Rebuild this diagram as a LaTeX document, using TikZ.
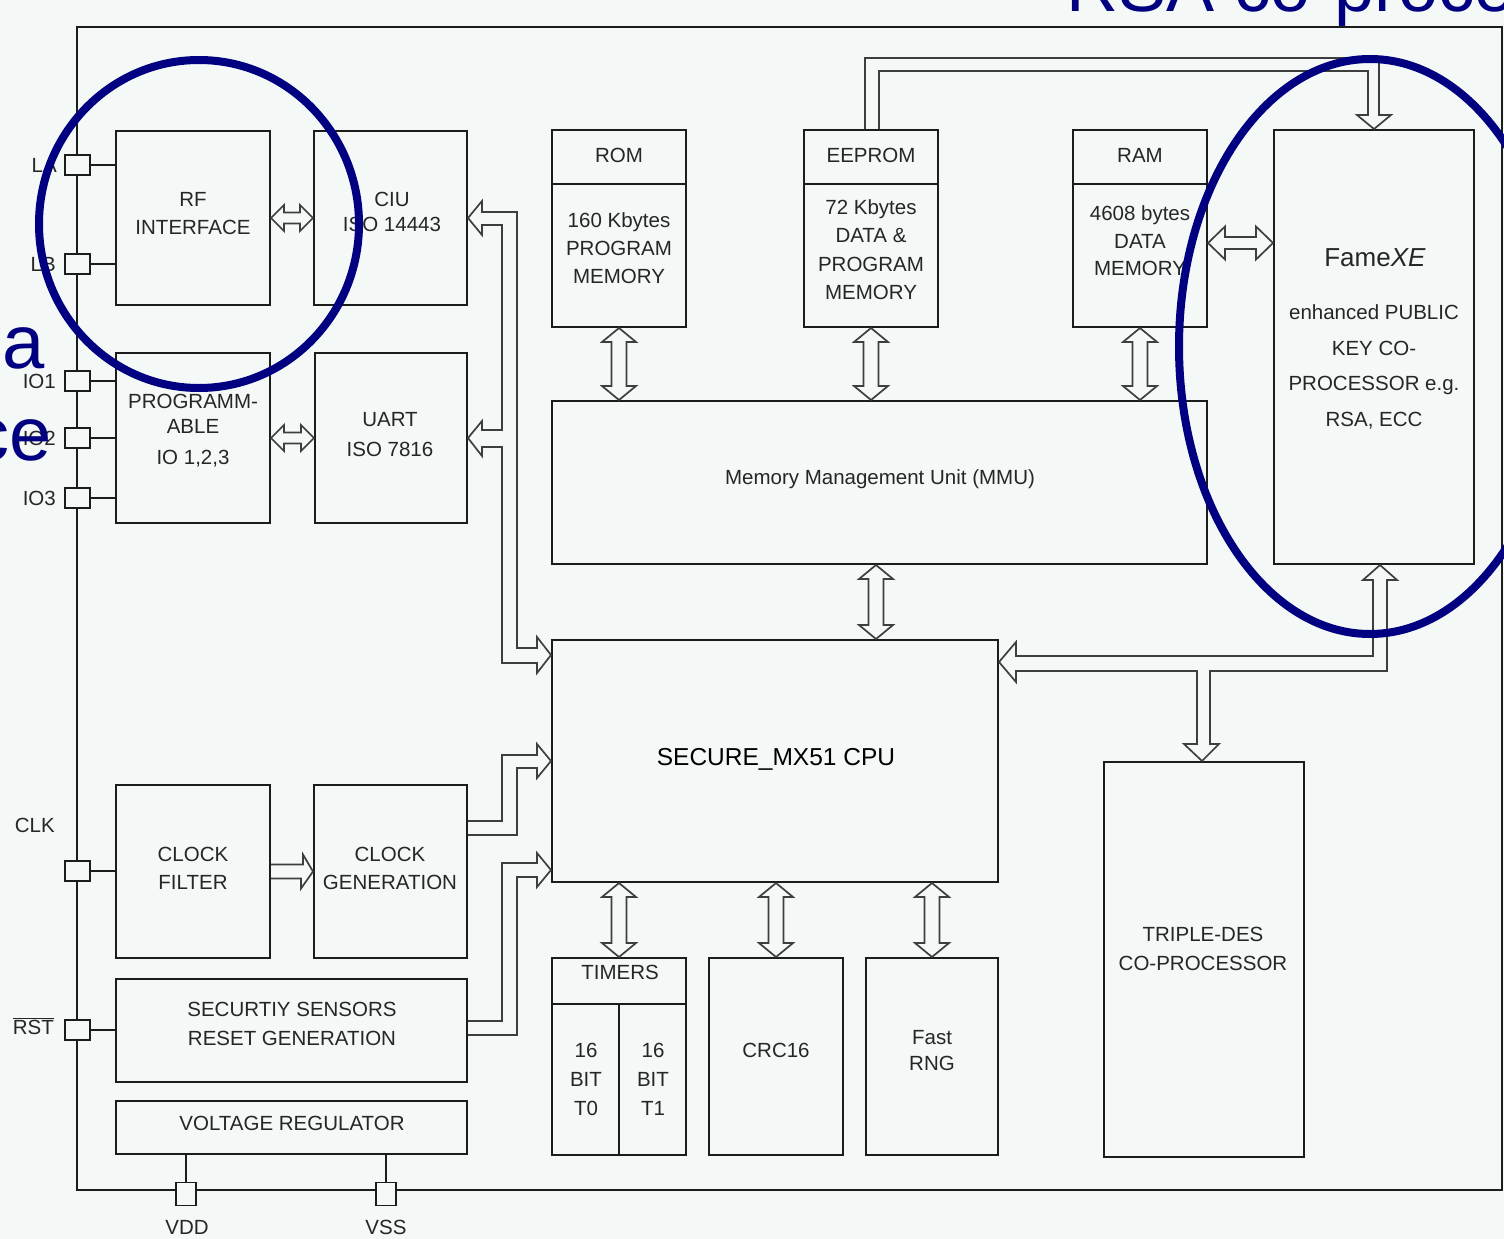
\documentclass[tikz,border=0pt]{standalone}
\usepackage{fontspec}
\setmainfont{Liberation Sans}
\usetikzlibrary{calc}
\definecolor{bgc}{RGB}{244,248,246}
\definecolor{boxc}{RGB}{28,28,28}
\definecolor{arrc}{RGB}{62,62,62}
\definecolor{txtc}{RGB}{38,38,38}
\definecolor{navyc}{RGB}{0,0,128}
\tikzset{
  blk/.style={draw=boxc, line width=2pt, inner sep=0pt},
  sz/.style 2 args={minimum width=#1pt, minimum height=#2pt},
  pinbox/.style={draw=boxc, line width=1.8pt, fill=bgc, inner sep=0pt, minimum width=25pt, minimum height=20pt},
  bpinbox/.style={pinbox, minimum width=20pt, minimum height=23pt},
  wire/.style={draw=boxc, line width=1.8pt},
  harr/.style={draw=arrc, line width=1.7pt, line join=miter},
  lbl/.style={text=txtc, inner sep=0pt, align=center, anchor=base, font=\fontsize{20.5}{#1}\selectfont},
  lbl/.default=28,
  ring/.style={draw=navyc, line width=8pt},
}
% vertical hollow double arrow between two tips (top, bottom)
\newcommand\vdbl[2]{%
  \draw[harr] let \p1=(#1), \p2=(#2) in
  (\x1,\y1) -- (\x1+17pt,\y1-14pt) -- (\x1+7.5pt,\y1-14pt) -- (\x1+7.5pt,\y2+14pt)
  -- (\x1+17pt,\y2+14pt) -- (\x1,\y2) -- (\x1-17pt,\y2+14pt) -- (\x1-7.5pt,\y2+14pt)
  -- (\x1-7.5pt,\y1-14pt) -- (\x1-17pt,\y1-14pt) -- cycle;}
% horizontal hollow double arrow: left tip, right tip, head half width, shaft half width, head length
\newcommand\hdbl[5]{%
  \draw[harr] let \p1=(#1), \p2=(#2) in
  (\x1,\y1) -- (\x1+#5,\y1+#3) -- (\x1+#5,\y1+#4) -- (\x2-#5,\y1+#4) -- (\x2-#5,\y1+#3)
  -- (\x2,\y1) -- (\x2-#5,\y1-#3) -- (\x2-#5,\y1-#4) -- (\x1+#5,\y1-#4) -- (\x1+#5,\y1-#3) -- cycle;}
\begin{document}
\begin{tikzpicture}[x=1pt,y=-1pt]
\fill[bgc] (0,0) rectangle (1504,1239);
\useasboundingbox (0,0) rectangle (1504,1239);

% chip outline
\node[blk, sz={1425}{1163}] (chip) at (789.5,608.5) {};

% blocks
\node[blk, sz={154}{174}] (rf) at (193,218) {};
\node[blk, sz={153}{174}] (ciu) at (390.5,218) {};
\node[blk, sz={154}{170}] (prog) at (193,438) {};
\node[blk, sz={152}{170}] (uart) at (391,438) {};
\node[blk, sz={134}{197}] (rom) at (619,228.5) {};
\node[blk, sz={134}{197}] (eeprom) at (871,228.5) {};
\node[blk, sz={134}{197}] (ram) at (1140,228.5) {};
\node[blk, sz={200}{434}] (fxe) at (1374,347) {};
\node[blk, sz={655}{163}] (mmu) at (879.5,482.5) {};
\node[blk, sz={446}{242}] (cpu) at (775,761) {};
\node[blk, sz={200}{395}] (tdes) at (1204,959.5) {};
\node[blk, sz={154}{173}] (cfilt) at (193,871.5) {};
\node[blk, sz={153}{173}] (cgen) at (390.5,871.5) {};
\node[blk, sz={351}{103}] (sens) at (291.5,1030.5) {};
\node[blk, sz={351}{53}] (vreg) at (291.5,1127.5) {};
\node[blk, sz={134}{197}] (timers) at (619,1056.5) {};
\node[blk, sz={134}{197}] (crc) at (776,1056.5) {};
\node[blk, sz={132}{197}] (rng) at (932,1056.5) {};

% dividers
\draw[wire, line width=2pt] (rom.west |- 0,184) -- (rom.east |- 0,184);
\draw[wire, line width=2pt] (eeprom.west |- 0,184) -- (eeprom.east |- 0,184);
\draw[wire, line width=2pt] (ram.west |- 0,184) -- (ram.east |- 0,184);
\draw[wire, line width=2pt] (timers.west |- 0,1004) -- (timers.east |- 0,1004);
\draw[wire, line width=2pt] (timers.south) -- (timers.south |- 0,1004);

% pins
\node[pinbox] (pLA) at (77.5,165) {};
\node[pinbox] (pLB) at (77.5,264) {};
\node[pinbox] (pIO1) at (77.5,381) {};
\node[pinbox] (pIO2) at (77.5,438) {};
\node[pinbox] (pIO3) at (77.5,498) {};
\node[pinbox] (pCLK) at (77.5,871) {};
\node[pinbox] (pRST) at (77.5,1030) {};
\node[bpinbox] (pVDD) at (186,1194) {};
\node[bpinbox] (pVSS) at (386,1194) {};

\draw[wire] (pLA.east) -- (pLA.east -| rf.west);
\draw[wire] (pLB.east) -- (pLB.east -| rf.west);
\draw[wire] (pIO1.east) -- (pIO1.east -| prog.west);
\draw[wire] (pIO2.east) -- (pIO2.east -| prog.west);
\draw[wire] (pIO3.east) -- (pIO3.east -| prog.west);
\draw[wire] (pCLK.east) -- (pCLK.east -| cfilt.west);
\draw[wire] (pRST.east) -- (pRST.east -| sens.west);
\draw[wire] (pVDD.north) -- (pVDD.north |- vreg.south);
\draw[wire] (pVSS.north) -- (pVSS.north |- vreg.south);

% pin labels
\node[lbl, anchor=base east] (tLA) at (57,172.5) {LA};
\node[lbl, anchor=base east] (tLB) at (56,271) {LB};
\node[lbl, anchor=base east] (tIO1) at (56,388) {IO1};
\node[lbl, anchor=base east] (tIO2) at (56,445) {IO2};
\node[lbl, anchor=base east] (tIO3) at (56,505) {IO3};
\node[lbl, anchor=base east] (tCLK) at (55,832) {CLK};
\node[lbl, anchor=base east] (tRST) at (54,1034) {$\overline{\hbox{RST}}$};
\node[lbl] (tVDD) at (187,1234.5) {VDD};
\node[lbl] (tVSS) at (386,1234.5) {VSS};

% double hollow arrows
\hdbl{rf.east}{ciu.west}{13pt}{5.5pt}{13pt}
\hdbl{prog.east}{uart.west}{13pt}{5.5pt}{13pt}
\hdbl{ram.east |- 0,243}{fxe.west |- 0,243}{16.5pt}{6pt}{17pt}
\vdbl{rom.south}{rom.south |- mmu.north}
\vdbl{eeprom.south}{eeprom.south |- mmu.north}
\vdbl{ram.south}{ram.south |- mmu.north}
\vdbl{mmu.south -| 876,0}{cpu.north -| 876,0}
\vdbl{timers.north |- cpu.south}{timers.north}
\vdbl{crc.north |- cpu.south}{crc.north}
\vdbl{rng.north |- cpu.south}{rng.north}

% clock filter -> clock generation
\draw[harr] ($(cfilt.east)+(0,-7)$) -- ++(32,0) -- ++(0,-10) -- (cgen.west)
  -- ++(-12,17) -- ++(0,-10) -- ($(cfilt.east)+(0,7)$);

% CIU / UART <-> CPU bus
\draw[harr] (ciu.east) -- (482,201) -- (482,212) -- (517,212) -- (517,648) -- (537,648)
  -- (537,637) -- (cpu.west |- 0,655) -- (537,673) -- (537,663) -- (502,663) -- (502,447)
  -- (482,447) -- (482,456) -- (uart.east) -- (482,421) -- (482,430) -- (502,430)
  -- (502,225) -- (482,225) -- (482,235) -- cycle;

% clock generation -> CPU
\draw[harr] (cgen.east |- 0,821) -- (502,821) -- (502,755) -- (537,755) -- (537,744)
  -- (cpu.west) -- (537,778) -- (537,768) -- (517,768) -- (517,835) -- (cgen.east |- 0,835);

% security sensors -> CPU
\draw[harr] (sens.east |- 0,1021) -- (502,1021) -- (502,863) -- (537,863) -- (537,853)
  -- (cpu.west |- 0,870) -- (537,887) -- (537,877) -- (517,877) -- (517,1035) -- (sens.east |- 0,1035);

% EEPROM -> FameXE
\draw[harr] (eeprom.north -| 865,0) -- (865,58) -- (1379,58) -- (1379,115) -- (1391,115)
  -- (fxe.north) -- (1357,115) -- (1368,115) -- (1368,71) -- (879,71) -- (eeprom.north -| 879,0);

% FameXE <-> CPU / TRIPLE-DES bus
\draw[harr] (fxe.south -| 1380,0) -- (1397,580) -- (1387,580) -- (1387,671) -- (1210,671)
  -- (1210,744) -- (1219,744) -- (tdes.north -| 1202,0) -- (1184,744) -- (1197,744)
  -- (1197,671) -- (1016,671) -- (1016,682) -- (cpu.east |- 0,662) -- (1016,642)
  -- (1016,656) -- (1373,656) -- (1373,580) -- (1363,580) -- cycle;

% texts (multi-line nodes: base = baseline of last line)
\node[lbl] (trf) at (193,234.5) {RF\\INTERFACE};
\node[lbl=25] (tciu) at (392,231.5) {CIU\\ISO 14443};
\node[lbl=25] (tprog) at (193,464.5) {PROGRAMM-\\ABLE\\[6pt]IO 1,2,3};
\node[lbl=30] (tuart) at (390,456.5) {UART\\ISO 7816};
\node[lbl] (trom) at (619,162.5) {ROM};
\node[lbl=28] (tromb) at (619,283.5) {160 Kbytes\\PROGRAM\\MEMORY};
\node[lbl] (teep) at (871,162.5) {EEPROM};
\node[lbl=28.3] (teepb) at (871,299.4) {72 Kbytes\\DATA \&\\PROGRAM\\MEMORY};
\node[lbl] (tram) at (1140,162.5) {RAM};
\node[lbl=27.5] (tramb) at (1140,275.5) {4608 bytes\\DATA\\MEMORY};
\node[lbl, font=\fontsize{26}{30}\selectfont] (tfxe) at (1375,266) {Fame\textit{XE}};
\node[lbl=35.7] (tfxeb) at (1374,426.6) {enhanced PUBLIC\\KEY CO-\\PROCESSOR e.g.\\RSA, ECC};
\node[lbl] (tmmu) at (880,484.5) {Memory Management Unit (MMU)};
\node[lbl, text=black, font=\fontsize{24.5}{28}\selectfont] (tcpu) at (776,765) {SECURE\_MX51 CPU};
\node[lbl=29] (ttdes) at (1203,970.5) {TRIPLE-DES\\CO-PROCESSOR};
\node[lbl=28] (tcfilt) at (193,889.5) {CLOCK\\FILTER};
\node[lbl=28] (tcgen) at (390,889.5) {CLOCK\\GENERATION};
\node[lbl=29] (tsens) at (292,1045.5) {SECURTIY SENSORS\\RESET GENERATION};
\node[lbl] (tvreg) at (292,1130.5) {VOLTAGE REGULATOR};
\node[lbl] (ttim) at (620,979.5) {TIMERS};
\node[lbl=29] (tt0) at (586,1115.5) {16\\BIT\\T0};
\node[lbl=29] (tt1) at (653,1115.5) {16\\BIT\\T1};
\node[lbl] (tcrc) at (776,1057.5) {CRC16};
\node[lbl=26] (trng) at (932,1070.5) {Fast\\RNG};

% overlay annotations
\draw[ring] (199,224) ellipse [x radius=160pt, y radius=164pt];
\draw[ring] (1370,346.5) ellipse [x radius=191pt, y radius=287.5pt];
\node[anchor=base west, inner sep=0pt, text=navyc, font=\fontsize{72}{72}\selectfont] (trsa) at (1066,12) {RSA co-proce};
\node[anchor=base east, inner sep=0pt, text=navyc, font=\fontsize{76}{76}\selectfont] (ta) at (45,368) {a};
\node[anchor=base east, inner sep=0pt, text=navyc, font=\fontsize{76}{76}\selectfont] (tce) at (52,460) {ce};
\end{tikzpicture}
\end{document}
